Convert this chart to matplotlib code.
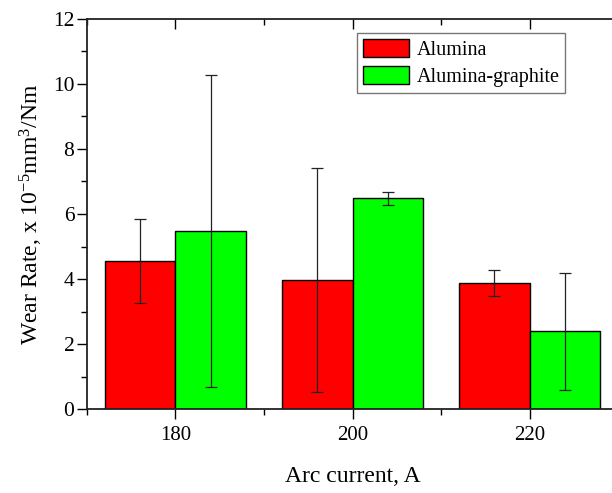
import numpy as np
import matplotlib
matplotlib.use('Agg')
import matplotlib.pyplot as plt
from matplotlib.ticker import MultipleLocator

plt.rcParams['font.family'] = ['Liberation Serif', 'DejaVu Serif']
plt.rcParams['mathtext.fontset'] = 'custom'
plt.rcParams['mathtext.rm'] = 'Liberation Serif'
plt.rcParams['mathtext.it'] = 'Liberation Serif:italic'

# data
currents = [180, 200, 220]
alumina = [4.55, 3.97, 3.88]
alumina_err = [1.30, 3.43, 0.40]
graphite = [5.47, 6.49, 2.40]
graphite_err = [4.79, 0.20, 1.80]
series_names = ['Alumina', 'Alumina-graphite']

fig = plt.figure(figsize=(6.12, 4.93), dpi=100)
ax = fig.add_axes([0.142, 0.170, 0.868, 0.792])

x = np.array(currents, dtype=float)
w = 8
err_kw = dict(ecolor='#222222', elinewidth=0.9, capsize=4, capthick=0.9)

ax.bar(x - w / 2, alumina, w, yerr=alumina_err, color='#ff0000',
       edgecolor='black', linewidth=1.0, label=series_names[0], error_kw=err_kw)
ax.bar(x + w / 2, graphite, w, yerr=graphite_err, color='#00ff00',
       edgecolor='black', linewidth=1.0, label=series_names[1], error_kw=err_kw)

ax.set_xlim(170, 230)
ax.set_ylim(0, 12)
ax.set_xticks(currents)
ax.xaxis.set_minor_locator(MultipleLocator(10))
ax.yaxis.set_major_locator(MultipleLocator(2))
ax.yaxis.set_minor_locator(MultipleLocator(1))

ax.tick_params(axis='x', which='both', direction='out', top=True, labelsize=15,
               width=1.0, pad=5)
ax.tick_params(axis='x', which='major', length=7)
ax.tick_params(axis='x', which='minor', length=4)
ax.tick_params(axis='y', which='both', direction='out', labelsize=15.5, width=1.0, pad=2)
ax.tick_params(axis='y', which='major', length=7)
ax.tick_params(axis='y', which='minor', length=4)
# top ticks point inward
for t in ax.xaxis.get_major_ticks() + ax.xaxis.get_minor_ticks():
    t.tick2line.set_marker(3)
for sp in ax.spines.values():
    sp.set_linewidth(1.3)
    sp.set_color('#222222')

ax.set_xlabel('Arc current, A', fontsize=17, labelpad=15)
ax.set_ylabel('Wear Rate, x 10$^{-5}$mm$^{3}$/Nm', fontsize=17, labelpad=6)

leg = ax.legend(loc='upper left', bbox_to_anchor=(357 / 612, 1 - 33 / 493),
                bbox_transform=fig.transFigure, borderaxespad=0, fancybox=False,
                fontsize=14.5, handlelength=2.3, handleheight=1.0, handletextpad=0.35,
                labelspacing=0.3, borderpad=0.3)
leg.get_frame().set_edgecolor('#555555')
leg.get_frame().set_linewidth(1.0)

fig.savefig('out.png', dpi=100)
